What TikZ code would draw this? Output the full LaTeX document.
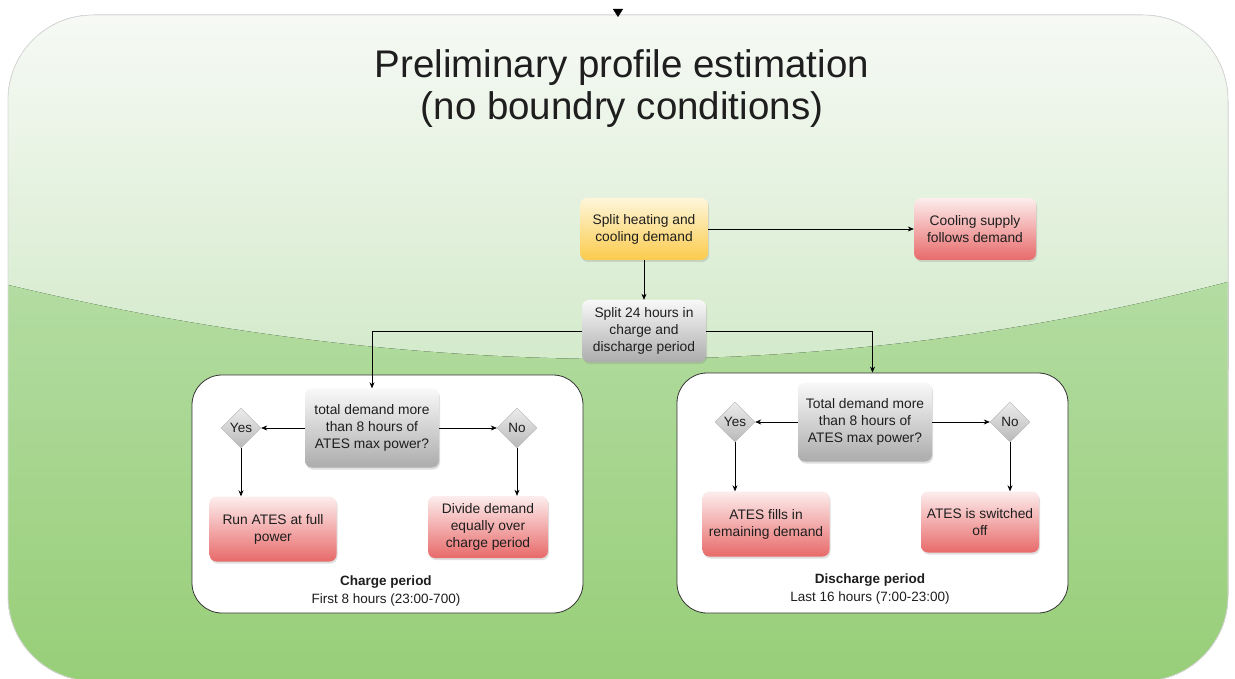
\documentclass[tikz,border=0pt]{standalone}
\usepackage{fontspec}
\setmainfont{Liberation Sans}
\usetikzlibrary{shapes.geometric,shadows,arrows.meta}

\definecolor{bgtop}{HTML}{F8FAF7}
\definecolor{bgmid}{HTML}{D3EACA}
\definecolor{bglow}{HTML}{B3DCA2}
\definecolor{bgbot}{HTML}{97CE77}
\definecolor{inktext}{HTML}{1E1E1E}
\definecolor{yeltop}{HTML}{FEF6DA}
\definecolor{yelmid}{HTML}{FDE294}
\definecolor{yelbot}{HTML}{FBCB4C}
\definecolor{redtop}{HTML}{FDEDED}
\definecolor{redmid}{HTML}{F4A6A6}
\definecolor{redbot}{HTML}{E86A6A}

\tikzset{
  box/.style={rectangle,rounded corners=7pt,align=center,inner sep=2pt,
    font=\fontsize{13.8}{17}\selectfont,text=inktext,
    drop shadow={opacity=0.25,shadow xshift=1pt,shadow yshift=-2pt}},
  yellowbox/.style={box,top color=yeltop,middle color=yelmid,bottom color=yelbot},
  redbox/.style={box,top color=redtop,middle color=redmid,bottom color=redbot},
  greybox/.style={box,top color=gray!5,middle color=gray!30,bottom color=gray!65},
  choice/.style={diamond,aspect=1,minimum width=40pt,minimum height=40pt,inner sep=0pt,
    draw=gray!60,top color=gray!15,bottom color=gray!55,
    font=\fontsize{13.5}{15}\selectfont,text=inktext},
  period/.style={rectangle,rounded corners=30pt,draw=black!80,line width=0.8pt,fill=white},
  caption/.style={align=center,font=\fontsize{13.5}{17.5}\selectfont,text=inktext},
  conn/.style={line width=0.6pt,-{Stealth[length=6pt,width=5pt]}}
}

\begin{document}
\begin{tikzpicture}[x=1pt,y=-1pt]
  \useasboundingbox (0,0) rectangle (1235,679);

  % Background panel with the glossy green shading.
  \begin{scope}
  \clip[rounded corners=85pt] (8,15) rectangle (1228,681);
  \fill[top color=bgtop,bottom color=bgmid] (0,0) rectangle (1235,370);
  \fill[top color=bglow,bottom color=bgbot]
    (0,283) .. controls (420,385) and (840,385) .. (1235,280)
    -- (1235,690) -- (0,690) -- cycle;
  \end{scope}
  \draw[gray!30,line width=0.8pt,rounded corners=85pt] (8,15) rectangle (1228,681);

  \coordinate (topin) at (618,9);
  \coordinate (topout) at (618,17);
  \draw[-{Triangle[length=8pt,width=10pt]}] (topin) -- (topout);

  \node[align=center,text=inktext,font=\fontsize{38.5}{42}\selectfont] (title) at (622,89)
    {Preliminary profile estimation\\(no boundry conditions)};

  % The two period containers.
  \node[period,minimum width=391pt,minimum height=238pt] (chargebox) at (387.5,494) {};
  \node[period,minimum width=391pt,minimum height=240pt] (dischargebox) at (872.5,493) {};

  % Top of the flow.
  \node[yellowbox,minimum width=128pt,minimum height=62pt] (heat) at (644,229)
    {Split heating and\\cooling demand};
  \node[redbox,minimum width=122pt,minimum height=62pt] (cool) at (975,229)
    {Cooling supply\\follows demand};
  \node[greybox,minimum width=124pt,minimum height=62pt] (split) at (644,331)
    {Split 24 hours in\\charge and\\discharge period};

  % Charge period.
  \node[greybox,minimum width=134pt,minimum height=79pt] (qcharge) at (372,428)
    {total demand more\\than 8 hours of\\ATES max power?};
  \node[choice] (yesc) at (241,428) {Yes};
  \node[choice] (noc) at (517,428) {No};
  \node[redbox,minimum width=127pt,minimum height=65pt] (runfull) at (273,529)
    {Run ATES at full\\power};
  \node[redbox,minimum width=120pt,minimum height=62pt] (divide) at (488,527)
    {Divide demand\\equally over\\charge period};
  \node[caption] (chargelabel) at (386,591)
    {\textbf{Charge period}\\First 8 hours (23:00-700)};

  % Discharge period.
  \node[greybox,minimum width=134pt,minimum height=79pt] (qdis) at (865,422)
    {Total demand more\\than 8 hours of\\ATES max power?};
  \node[choice] (yesd) at (735,422) {Yes};
  \node[choice] (nod) at (1010,422) {No};
  \node[redbox,minimum width=127pt,minimum height=65pt] (fills) at (766,524)
    {ATES fills in\\remaining demand};
  \node[redbox,minimum width=118pt,minimum height=61pt] (off) at (980,522)
    {ATES is switched\\off};
  \node[caption] (dischargelabel) at (870,589)
    {\textbf{Discharge period}\\Last 16 hours (7:00-23:00)};

  % Connectors.
  \draw[conn] (heat.south) -- (split.north);
  \draw[conn] (heat.east) -- (cool.west);
  \draw[conn] (split.west) -| (qcharge.north);
  \draw[conn] (split.east) -| (dischargebox.north);
  \draw[conn] (qcharge.west) -- (yesc.east);
  \draw[conn] (qcharge.east) -- (noc.west);
  \draw[conn] (yesc.south) -- (yesc.south |- runfull.north);
  \draw[conn] (noc.south) -- (noc.south |- divide.north);
  \draw[conn] (qdis.west) -- (yesd.east);
  \draw[conn] (qdis.east) -- (nod.west);
  \draw[conn] (yesd.south) -- (yesd.south |- fills.north);
  \draw[conn] (nod.south) -- (nod.south |- off.north);
\end{tikzpicture}
\end{document}
